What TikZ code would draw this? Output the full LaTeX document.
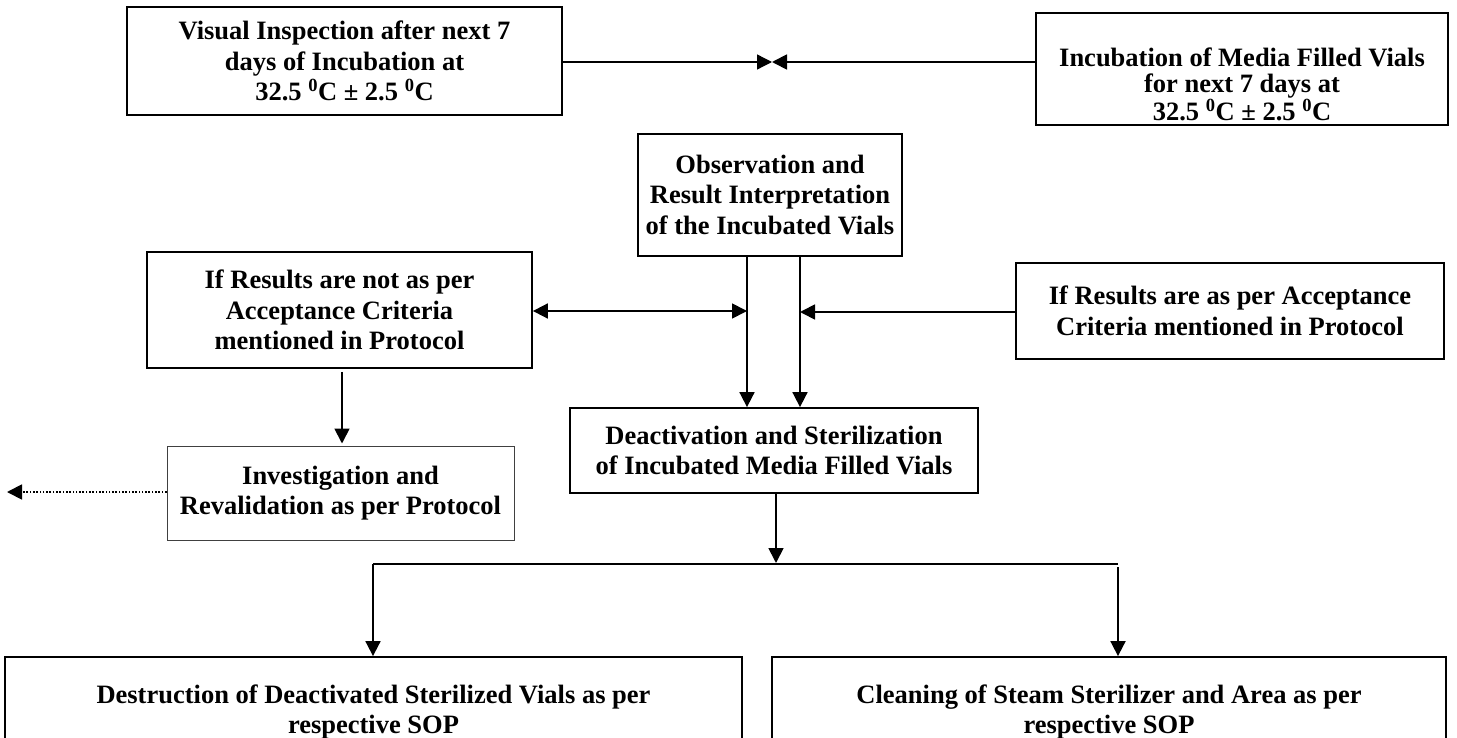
\documentclass[tikz,border=0pt]{standalone}
\usepackage{fontspec}
\setmainfont{Liberation Serif}
\usetikzlibrary{arrows.meta,calc}
\newcommand\boxfont{\fontsize{26.5}{30.5}\selectfont\bfseries}
\newcommand\tightfont{\fontsize{26.5}{26}\selectfont\bfseries}
\newcommand\degc{\textsuperscript{0}C}
\begin{document}
\begin{tikzpicture}[x=1pt,y=-1pt,
  box/.style={draw, line width=1.8pt, inner sep=0pt, align=center, font=\boxfont},
  lightbox/.style={draw=black!75, line width=1pt, inner sep=0pt, align=center, font=\boxfont},
  lbl/.style={inner sep=0pt, align=center},
  tip/.style={-{Triangle[length=15pt,width=15pt]}},
  arr/.style={line width=1.8pt, tip},
  arrthin/.style={line width=1.3pt, tip},
  arrtwo/.style={line width=1.8pt, {Triangle[length=15pt,width=15pt]}-{Triangle[length=15pt,width=15pt]}},
  dots/.style={line width=1.8pt, dash pattern=on 1.6pt off 1.7pt, tip}]
\useasboundingbox (0,0) rectangle (1457,738);

% boxes
\node[box, minimum width=435pt, minimum height=108pt] (vis) at (344.5,61)
  {Visual Inspection after next 7\\ days of Incubation at\\ 32.5 \degc{} ± 2.5 \degc};
\node[box, minimum width=412pt, minimum height=112pt] (inc) at (1242,69) {};
\node[lbl, font=\tightfont] (inclbl) at (1242,84)
  {Incubation of Media Filled Vials\\ for next 7 days at\\ 32.5 \degc{} ± 2.5 \degc};
\node[box, minimum width=264pt, minimum height=122pt] (obs) at (770,195)
  {Observation and\\ Result Interpretation\\ of the Incubated Vials};
\node[box, minimum width=385pt, minimum height=116pt] (notok) at (339.5,310)
  {If Results are not as per\\ Acceptance Criteria\\ mentioned in Protocol};
\node[box, minimum width=428pt, minimum height=96pt] (ok) at (1230,311)
  {If Results are as per Acceptance\\ Criteria mentioned in Protocol};
\node[lightbox, minimum width=347pt, minimum height=94pt] (inv) at (340.5,493)
  {Investigation and\\ Revalidation as per Protocol};
\node[box, minimum width=408pt, minimum height=85pt] (deact) at (774,450.5)
  {Deactivation and Sterilization\\ of Incubated Media Filled Vials};
\node[box, minimum width=737pt, minimum height=110pt] (dest) at (373.5,712)
  {Destruction of Deactivated Sterilized Vials as per\\ respective SOP};
\node[box, minimum width=674pt, minimum height=110pt] (clean) at (1109,712)
  {Cleaning of Steam Sterilizer and Area as per\\ respective SOP};

% helper coordinates
\coordinate (meet) at (772,62);
\coordinate (c1) at (747,0);
\coordinate (c2) at (800,0);
\coordinate (c3) at (342,0);
\coordinate (bus) at (0,564);
\coordinate (busL) at (373,564);
\coordinate (busR) at (1118,564);
\coordinate (far) at (7,492);

% connectors
\draw[arrthin] (vis.east |- meet) -- (meet);
\draw[arr] (inc.west |- meet) -- (meet);
\draw[arr] (obs.south -| c1) -- (deact.north -| c1);
\draw[arr] (obs.south -| c2) -- (deact.north -| c2);
\draw[arrtwo] (notok.east |- 0,311) -- (c1 |- 0,311);
\draw[arr] (ok.west |- 0,312) -- (c2 |- 0,312);
\draw[arr] ($(notok.south -| c3)+(0,3)$) -- ($(inv.north -| c3)+(0,-2)$);
\draw[dots] (inv.west |- far) -- (far);
\draw[arr] (deact.south -| 776,0) -- ($(bus -| 776,0)+(0,-1)$);
\draw[line width=1.8pt] (busL) -- (busR);
\draw[arr] (busL) -- (dest.north -| busL);
\draw[arr] ($(busR)+(0,3)$) -- (clean.north -| busR);
\end{tikzpicture}
\end{document}
